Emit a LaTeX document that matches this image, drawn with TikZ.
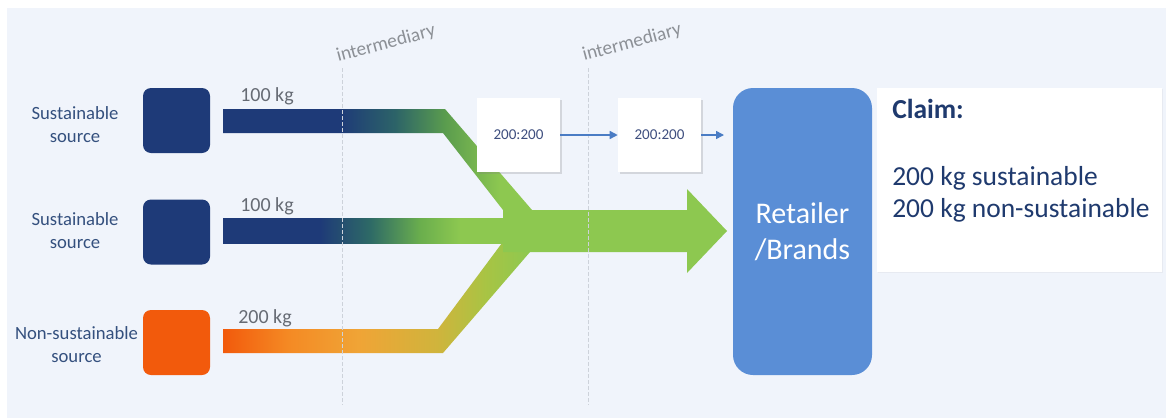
\documentclass[tikz,border=0pt]{standalone}
\usepackage{fontspec}
\setmainfont{Carlito}
\usetikzlibrary{arrows.meta,shadows}

\definecolor{bgc}{HTML}{F0F4FB}
\definecolor{navyc}{HTML}{1E3A78}
\definecolor{orangec}{HTML}{F25A0C}
\definecolor{greenc}{HTML}{8DC850}
\definecolor{tealc}{HTML}{2C6368}
\definecolor{greenmid}{HTML}{5A9C4E}
\definecolor{tealb}{HTML}{2E6A66}
\definecolor{greenb}{HTML}{6AAE4D}
\definecolor{orA}{HTML}{F48A24}
\definecolor{orB}{HTML}{F0A436}
\definecolor{orC}{HTML}{D0B43C}
\definecolor{orD}{HTML}{A8C444}
\definecolor{retailc}{HTML}{5A8ED6}
\definecolor{arrowc}{HTML}{4A7CC4}
\definecolor{labelc}{HTML}{34507E}
\definecolor{claimc}{HTML}{1F3A6E}
\definecolor{kgc}{HTML}{666B74}
\definecolor{interc}{HTML}{8C9096}
\definecolor{dashc}{HTML}{CDD2DA}
\definecolor{ratioc}{HTML}{3F4F7F}

\pgfdeclarehorizontalshading{upflow}{100bp}{color(0bp)=(navyc); color(43.9bp)=(navyc); color(52.8bp)=(tealc); color(60.9bp)=(greenmid); color(69.8bp)=(greenc); color(100bp)=(greenc)}
\pgfdeclarehorizontalshading{midflow}{100bp}{color(0bp)=(navyc); color(42.1bp)=(navyc); color(51bp)=(tealb); color(59.8bp)=(greenb); color(66.9bp)=(greenc); color(100bp)=(greenc)}
\pgfdeclarehorizontalshading{lowflow}{100bp}{color(0bp)=(orangec); color(25bp)=(orangec); color(35.7bp)=(orA); color(47bp)=(orB); color(59.8bp)=(orC); color(67.8bp)=(orD); color(75bp)=(greenc); color(100bp)=(greenc)}

\tikzset{
  srcbox/.style={rounded corners=6pt, minimum width=50.25pt, minimum height=48.75pt, inner sep=0pt},
  lab/.style={font=\fontsize{14}{17.25}\selectfont, text=labelc, align=center, inner sep=0pt},
  kg/.style={font=\fontsize{15}{18}\selectfont, text=kgc, anchor=base west, inner sep=0pt},
  inter/.style={font=\fontsize{14.5}{17}\selectfont, text=interc, rotate=15, anchor=base west, inner sep=0pt},
  ratiobox/.style={fill=white, minimum width=62.25pt, minimum height=55.5pt, inner sep=0pt,
    drop shadow={shadow xshift=1.2pt, shadow yshift=-1.2pt, opacity=0.25, fill=gray},
    font=\fontsize{11.3}{13}\selectfont, text=ratioc},
  flowarrow/.style={draw=arrowc, line width=1.1pt, -{Triangle[length=6pt,width=6pt]}},
  divider/.style={draw=dashc, line width=0.6pt, dash pattern=on 3pt off 1.5pt},
  claimtext/.style={font=\fontsize{20.6}{24}\selectfont, text=claimc, anchor=base west, inner sep=0pt}
}

\begin{document}
\begin{tikzpicture}[x=0.75pt, y=-0.75pt]
\useasboundingbox (0,0) rectangle (1166,418);
\fill[white] (0,0) rectangle (1166,418);
\fill[bgc] (7,8) rectangle (1166,418);

% flows
\shade[shading=upflow] (223,109) -- (445,109) -- (532,210) -- (503,210) -- (443,133) -- (223,133) -- cycle;
\shade[shading=lowflow] (223,329) -- (438,329) -- (502,243) -- (530,252) -- (443,353) -- (223,353) -- cycle;
\shade[shading=midflow] (223,218) rectangle (506,243);
\fill[greenc] (503,210) -- (687,210) -- (687,189) -- (727,231) -- (687,273) -- (687,252) -- (503,252) -- cycle;

% dividers
\draw[divider] (342,68) -- (342,405);
\draw[divider] (588,68) -- (588,405);
\node[inter] (i1) at (338,62) {intermediary};
\node[inter] (i2) at (584,61) {intermediary};

% sources
\node[srcbox, fill=navyc] (s1) at (176.5,120.5) {};
\node[srcbox, fill=navyc] (s2) at (176.5,232) {};
\node[srcbox, fill=orangec] (s3) at (176.5,342.5) {};
\node[lab] (l1) at (75,124.5) {Sustainable\\source};
\node[lab] (l2) at (75,231) {Sustainable\\source};
\node[lab] (l3) at (76.5,345) {Non-sustainable\\source};

\node[kg] (k1) at (240,101.7) {100 kg};
\node[kg] (k2) at (240,211.7) {100 kg};
\node[kg] (k3) at (238,323.3) {200 kg};

% intermediary boxes
\node[ratiobox] (b1) at (518.5,135) {200:200};
\node[ratiobox] (b2) at (659.5,135) {200:200};

% retailer
\node[fill=retailc, rounded corners=15pt, minimum width=104.25pt, minimum height=215.25pt,
  inner sep=0pt, align=center, text=white, font=\fontsize{22.5}{27}\selectfont] (ret) at (802.5,231.5) {Retailer\\/Brands};
\coordinate (a2) at (724,135);

\draw[flowarrow] (b1) -- (b2);
\draw[flowarrow] (b2) -- (a2);

% claim
\node[fill=white, minimum width=213.75pt, minimum height=138pt, inner sep=0pt,
  drop shadow={shadow xshift=0.8pt, shadow yshift=-0.8pt, opacity=0.08, fill=gray}] (claim) at (1019.5,180) {};
\node[claimtext] (c0) at (892,118) {\textbf{Claim:}};
\node[claimtext] (c1) at (892,185) {200 kg sustainable};
\node[claimtext] (c2) at (892,217) {200 kg non-sustainable};
\end{tikzpicture}
\end{document}
